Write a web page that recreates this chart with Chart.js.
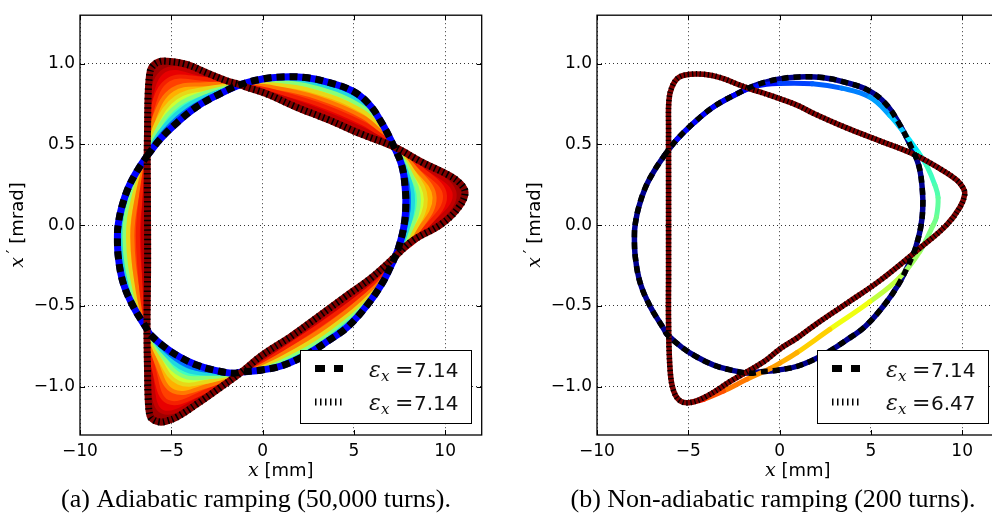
<!DOCTYPE html>
<html>
<head>
<meta charset="utf-8">
<script src="https://cdn.jsdelivr.net/npm/chart.js@4.4.1/dist/chart.umd.min.js"></script>
<style>
  html, body { margin: 0; padding: 0; background: #fff; overflow: hidden; width: 992px; height: 524px; }
  .panel { position: absolute; top: 0; width: 496px; height: 524px; }
  #panelA { left: 0; }
  #panelB { left: 517px; }
</style>
</head>
<body>
<div class="panel" id="panelA"><canvas id="chartA"></canvas></div>
<div class="panel" id="panelB"><canvas id="chartB"></canvas></div>
<script>
// axes
const xTicks = [-10, -5, 0, 5, 10];
const yTicks = [-1.0, -0.5, 0.0, 0.5, 1.0];
const xRange = [-10, 12];
const yRange = [-1.3, 1.3];

// points where the initial ellipse and the adiabatic final contour cross
const crossingsA = [[-6.32, 0.43], [-1.22, 0.87], [7.2, 0.485], [7.26, -0.195], [-1.15, -0.91], [-6.33, -0.645]];

// initial ellipse (same in both panels), x [mm], x' [mrad]
const ellipse = [
  [-6.32, 0.43], [-5.62, 0.531], [-4.71, 0.632], [-3.61, 0.733], [-2.34, 0.813], [-1.22, 0.87],
  [0.0, 0.905], [1.06, 0.918], [2.33, 0.914], [3.61, 0.884], [4.89, 0.833], [5.8, 0.753],
  [6.53, 0.632], [7.2, 0.485], [7.62, 0.37], [7.81, 0.23], [7.84, 0.1], [7.72, -0.02],
  [7.44, -0.143], [7.26, -0.195], [6.99, -0.263], [6.53, -0.364], [5.8, -0.485], [4.7, -0.626],
  [3.61, -0.716], [2.33, -0.807], [1.06, -0.871], [-0.04, -0.897], [-1.15, -0.91], [-1.61, -0.918],
  [-2.7, -0.897], [-3.61, -0.867], [-4.53, -0.817], [-5.35, -0.757], [-6.17, -0.676], [-6.33, -0.645],
  [-7.08, -0.505], [-7.63, -0.36], [-7.9, -0.2], [-7.95, -0.06], [-7.9, 0.01], [-7.72, 0.109],
  [-7.36, 0.23], [-6.9, 0.33], [-6.32, 0.43]
];

// final contour, adiabatic (a)
const triangleA = [
  [-6.32, 0.43], [-6.3, 0.6], [-6.27, 0.8], [-6.2, 0.92], [-6.08, 0.975], [-5.7, 1.01],
  [-5.26, 1.015], [-4.16, 0.995], [-3.07, 0.944], [-1.97, 0.894], [-1.22, 0.87], [-0.88, 0.854],
  [0.22, 0.813], [1.79, 0.733], [3.61, 0.652], [5.44, 0.562], [7.2, 0.485], [8.72, 0.39],
  [10.18, 0.31], [10.8, 0.26], [11.09, 0.2], [10.73, 0.109], [9.81, 0.008], [8.17, -0.1],
  [7.26, -0.195], [5.98, -0.324], [4.52, -0.444], [3.07, -0.565], [1.6, -0.686], [-0.04, -0.807],
  [-1.15, -0.91], [-2.34, -1.008], [-3.61, -1.109], [-4.71, -1.19], [-5.3, -1.215], [-5.62, -1.22],
  [-6.0, -1.205], [-6.17, -1.18], [-6.26, -1.089], [-6.3, -0.907], [-6.33, -0.645], [-6.3, -0.3],
  [-6.3, 0.0], [-6.32, 0.43]
];

// intermediate contours during the adiabatic ramp (early -> late)
const ramp1 = [[-6.32,0.43],[-5.59,0.556],[-4.38,0.69],[-2.94,0.791],[-1.22,0.87],[0.6,0.908],[3.0,0.887],[5.5,0.767],[6.55,0.618],[7.2,0.485],[7.73,0.352],[8.02,0.144],[7.68,-0.077],[7.26,-0.195],[6.0,-0.444],[3.6,-0.704],[1.0,-0.86],[-1.15,-0.91],[-2.65,-0.907],[-4.11,-0.872],[-5.4,-0.769],[-6.33,-0.645],[-7.27,-0.438],[-7.85,-0.079],[-7.38,0.197],[-6.32,0.43]];
const ramp2 = [[-6.32,0.43],[-5.64,0.574],[-4.46,0.714],[-2.98,0.804],[-1.22,0.87],[0.6,0.899],[3.0,0.871],[5.5,0.751],[6.55,0.61],[7.2,0.485],[7.81,0.354],[8.24,0.148],[7.79,-0.074],[7.26,-0.195],[6.0,-0.435],[3.6,-0.691],[1.0,-0.85],[-1.15,-0.91],[-2.7,-0.921],[-4.23,-0.897],[-5.47,-0.782],[-6.33,-0.645],[-7.2,-0.435],[-7.74,-0.077],[-7.3,0.194],[-6.32,0.43]];
const ramp3 = [[-6.32,0.43],[-5.72,0.6],[-4.59,0.748],[-3.04,0.823],[-1.22,0.87],[0.6,0.886],[3.0,0.849],[5.5,0.729],[6.55,0.599],[7.2,0.485],[7.94,0.357],[8.56,0.154],[7.95,-0.069],[7.26,-0.195],[6.0,-0.423],[3.6,-0.671],[1.0,-0.836],[-1.15,-0.91],[-2.78,-0.941],[-4.4,-0.933],[-5.56,-0.801],[-6.33,-0.645],[-7.09,-0.431],[-7.57,-0.075],[-7.19,0.189],[-6.32,0.43]];
const ramp4 = [[-6.32,0.43],[-5.81,0.631],[-4.74,0.789],[-3.11,0.845],[-1.22,0.87],[0.6,0.871],[3.0,0.823],[5.5,0.703],[6.55,0.586],[7.2,0.485],[8.09,0.36],[8.94,0.161],[8.15,-0.063],[7.26,-0.195],[6.0,-0.408],[3.6,-0.647],[1.0,-0.82],[-1.15,-0.91],[-2.88,-0.965],[-4.61,-0.976],[-5.67,-0.825],[-6.33,-0.645],[-6.97,-0.426],[-7.37,-0.073],[-7.05,0.183],[-6.32,0.43]];
const ramp5 = [[-6.32,0.43],[-5.92,0.67],[-4.93,0.84],[-3.2,0.873],[-1.22,0.87],[0.6,0.853],[3.0,0.79],[5.5,0.67],[6.55,0.569],[7.2,0.485],[8.28,0.365],[9.42,0.17],[8.39,-0.055],[7.26,-0.195],[6.0,-0.389],[3.6,-0.618],[1.0,-0.799],[-1.15,-0.91],[-3.0,-0.995],[-4.88,-1.03],[-5.81,-0.854],[-6.33,-0.645],[-6.82,-0.42],[-7.13,-0.07],[-6.88,0.175],[-6.32,0.43]];
const ramp6 = [[-6.32,0.43],[-6.05,0.717],[-5.15,0.901],[-3.31,0.906],[-1.22,0.87],[0.6,0.83],[3.0,0.75],[5.5,0.63],[6.55,0.549],[7.2,0.485],[8.5,0.37],[9.99,0.181],[8.68,-0.046],[7.26,-0.195],[6.0,-0.366],[3.6,-0.583],[1.0,-0.774],[-1.15,-0.91],[-3.14,-1.031],[-5.19,-1.095],[-5.97,-0.888],[-6.33,-0.645],[-6.63,-0.413],[-6.83,-0.066],[-6.67,0.166],[-6.32,0.43]];
const ramp7 = [[-6.32,0.43],[-6.17,0.761],[-5.36,0.959],[-3.41,0.937],[-1.22,0.87],[0.6,0.809],[3.0,0.713],[5.5,0.593],[6.55,0.53],[7.2,0.485],[8.71,0.376],[10.52,0.191],[8.96,-0.038],[7.26,-0.195],[6.0,-0.344],[3.6,-0.549],[1.0,-0.751],[-1.15,-0.91],[-3.28,-1.065],[-5.49,-1.156],[-6.12,-0.921],[-6.33,-0.645],[-6.45,-0.406],[-6.55,-0.063],[-6.47,0.158],[-6.32,0.43]];

// colour of the band between two successive contours (ellipse side first)
const bandColors = ["#0028ff", "#00b0ff", "#40ffbf", "#d0ff30", "#ffb000", "#ff4000", "#e80000", "#a00000"];
// colour along each intermediate contour (softens the steps between bands)
const rampEdgeColors = ["#006cff", "#20d8df", "#88ff78", "#e8d818", "#ff7800", "#f42000", "#c40000"];
// in which lobes the final contour lies outside the ellipse (A..F, clockwise from upper left)
const triangleOuter = [true, false, true, false, true, false];

// final contour, non-adiabatic (b)
const triangleB = [
  [-6.08, 0.0], [-6.08, 0.3], [-6.08, 0.6], [-6.06, 0.773], [-5.9, 0.854], [-5.53, 0.914],
  [-4.89, 0.934], [-4.16, 0.934], [-3.25, 0.914], [-2.34, 0.874], [-1.61, 0.844], [-0.51, 0.803],
  [0.95, 0.743], [1.84, 0.693], [3.67, 0.602], [5.49, 0.522], [7.31, 0.441], [8.77, 0.35],
  [9.69, 0.28], [10.05, 0.23], [10.14, 0.19], [9.87, 0.109], [9.14, 0.0], [7.68, -0.143],
  [5.49, -0.344], [3.67, -0.485], [1.84, -0.626], [0.95, -0.7], [0.02, -0.767], [-0.88, -0.847],
  [-2.7, -0.968], [-3.98, -1.059], [-4.89, -1.099], [-5.44, -1.089], [-5.8, -1.028], [-5.99, -0.908],
  [-6.08, -0.606], [-6.08, -0.3], [-6.08, 0.0]
];

// particle path during the 200-turn ramp
const nonAdiabatic = [
  [-5.62, 0.531], [-4.71, 0.632], [-3.61, 0.733], [-2.34, 0.813], [-1.2, 0.862], [0.0, 0.877],
  [1.8, 0.875], [3.4, 0.848], [4.94, 0.793], [6.03, 0.68], [6.95, 0.552], [7.6, 0.45],
  [8.05, 0.37], [8.5, 0.25], [8.68, 0.17], [8.59, 0.05], [8.41, 0.0], [7.68, -0.163],
  [6.58, -0.324], [4.94, -0.475], [2.75, -0.646], [0.95, -0.79], [0.02, -0.855], [-0.51, -0.888],
  [-1.79, -0.955], [-3.07, -1.028], [-4.16, -1.079], [-4.89, -1.099]
];
const nonAdiabaticColors = [
  "#0000ff", "#0000ff", "#0000ff", "#0000ff", "#0010ff", "#0040ff",
  "#0060ff", "#0080ff", "#00a0ff", "#00c8ff", "#00e8ff", "#20ffdf",
  "#40ffbf", "#50ffaf", "#60ff9f", "#70ff8f", "#80ff80", "#a0ff60",
  "#c0ff40", "#f0ff10", "#ffd000", "#ffb000", "#ffa000", "#ff9000",
  "#ff7800", "#ff5000", "#ff2000", "#e00000"
];

// legend values and captions
const emittanceA = ["7.14", "7.14"];
const emittanceB = ["7.14", "6.47"];
const captionA = "(a) Adiabatic ramping (50,000 turns).";
const captionB = "(b) Non-adiabatic ramping (200 turns).";

const fmt = (v, d) => (v < 0 ? "\u2212" : "") + Math.abs(v).toFixed(d);

function curve(data, color, width, dash, cap) {
  return {
    data: data,
    showLine: true,
    pointRadius: 0,
    pointHoverRadius: 0,
    borderColor: color,
    borderWidth: width,
    borderDash: dash || [],
    borderCapStyle: cap || "round",
    borderJoinStyle: "round",
    tension: 0.4,
    fill: false
  };
}

function area(data, color, edge) {
  const d = curve(data, edge || color, edge ? 4 : 0);
  d.fill = "shape";
  d.backgroundColor = color;
  return d;
}

// cut a closed contour into its six lobes at the crossing points
function splitLobes(points, crossings) {
  const idx = crossings.map(c => points.findIndex(p => p[0] === c[0] && p[1] === c[1]));
  return idx.map((s, i) => points.slice(s, (i < idx.length - 1 ? idx[i + 1] : points.length - 1) + 1));
}

function stack(list) {
  // first in list is drawn first (bottom)
  list.forEach((d, i) => { d.order = list.length - i; });
  return list;
}

function drawParts(ctx, parts, x, y) {
  let w = 0;
  parts.forEach(p => { ctx.font = p.font; p.w = ctx.measureText(p.text).width + (p.dx || 0); w += p.w; });
  let cx = x - w / 2;
  parts.forEach(p => { ctx.font = p.font; ctx.fillText(p.text, cx + (p.dx || 0), y + (p.dy || 0)); cx += p.w; });
}

const panelDecor = {
  id: "panelDecor",
  afterDraw(chart, args, opts) {
    const ctx = chart.ctx, a = chart.chartArea;
    const sx = chart.scales.x, sy = chart.scales.y;
    ctx.save();

    // inward tick marks
    ctx.strokeStyle = "#000";
    ctx.lineWidth = 1;
    ctx.beginPath();
    xTicks.forEach(v => {
      const px = Math.round(sx.getPixelForValue(v)) + 0.5;
      ctx.moveTo(px, a.bottom); ctx.lineTo(px, a.bottom - 5);
      ctx.moveTo(px, a.top); ctx.lineTo(px, a.top + 5);
    });
    yTicks.forEach(v => {
      const py = Math.round(sy.getPixelForValue(v)) + 0.5;
      ctx.moveTo(a.left, py); ctx.lineTo(a.left + 5, py);
      ctx.moveTo(a.right, py); ctx.lineTo(a.right - 5, py);
    });
    ctx.stroke();

    // frame
    ctx.lineWidth = 1.3;
    ctx.strokeRect(a.left, a.top, a.right - a.left, a.bottom - a.top);

    // axis titles
    ctx.fillStyle = "#000";
    ctx.textBaseline = "alphabetic";
    drawParts(ctx, [
      { text: "x", font: "italic 19px 'DejaVu Serif'" },
      { text: " [mm]", font: "18px 'DejaVu Sans'" }
    ], (a.left + a.right) / 2, 476);

    ctx.save();
    ctx.translate(23, (a.top + a.bottom) / 2);
    ctx.rotate(-Math.PI / 2);
    drawParts(ctx, [
      { text: "x", font: "italic 19px 'DejaVu Serif'" },
      { text: "\u2032", font: "16px 'DejaVu Sans'", dx: 4, dy: -5 },
      { text: " [mrad]", font: "18px 'DejaVu Sans'" }
    ], 0, 0);
    ctx.restore();

    // legend
    const bx = 300.5, by = 350.5, bw = 171, bh = 73;
    ctx.fillStyle = "#fff";
    ctx.fillRect(bx, by, bw, bh);
    ctx.strokeStyle = "#000";
    ctx.lineWidth = 1;
    ctx.strokeRect(bx, by, bw, bh);
    const rows = [368.5, 402];

    ctx.lineWidth = 7;
    ctx.lineCap = "butt";
    ctx.setLineDash([10, 9]);
    ctx.beginPath(); ctx.moveTo(315, rows[0]); ctx.lineTo(343, rows[0]); ctx.stroke();
    ctx.setLineDash([1.5, 3.5]);
    ctx.beginPath(); ctx.moveTo(315, rows[1]); ctx.lineTo(343, rows[1]); ctx.stroke();
    ctx.setLineDash([]);

    ctx.fillStyle = "#111";
    opts.values.forEach((val, i) => {
      const y = rows[i] + 8;
      ctx.font = "italic 22px 'DejaVu Serif'";
      ctx.fillText("\u03b5", 369, y);
      ctx.font = "italic 15px 'DejaVu Serif'";
      ctx.fillText("x", 381, y + 4);
      ctx.font = "22px 'DejaVu Serif'";
      ctx.fillText("=", 395, y);
      ctx.font = "20px 'DejaVu Sans'";
      ctx.fillText(val, 414, y);
    });

    // caption
    ctx.fillStyle = "#000";
    ctx.font = "26px 'Liberation Serif'";
    ctx.textAlign = "center";
    ctx.fillText(opts.caption, 256, 506.5);
    ctx.restore();
  }
};

function options(values, caption) {
  return {
    responsive: true,
    maintainAspectRatio: false,
    animation: false,
    events: [],
    layout: { padding: { top: 5, right: 14.3, left: 0, bottom: 0 } },
    plugins: {
      legend: { display: false },
      tooltip: { enabled: false },
      panelDecor: { values: values, caption: caption }
    },
    scales: {
      x: {
        type: "linear",
        min: xRange[0],
        max: xRange[1],
        afterBuildTicks: s => { s.ticks = xTicks.map(v => ({ value: v })); },
        afterFit: s => { s.height = 89; },
        grid: { color: "#000", lineWidth: 0.8, drawTicks: false },
        border: { display: false, dash: [1, 3] },
        ticks: {
          padding: 6,
          color: "#000",
          maxRotation: 0,
          font: { family: "DejaVu Sans", size: 17 },
          callback: v => fmt(v, 0)
        }
      },
      y: {
        type: "linear",
        min: yRange[0],
        max: yRange[1],
        afterBuildTicks: s => { s.ticks = yTicks.map(v => ({ value: v })); },
        afterFit: s => { s.width = 80; },
        grid: { color: "#000", lineWidth: 0.8, drawTicks: false },
        border: { display: false, dash: [1, 3] },
        ticks: {
          padding: 5,
          color: "#000",
          font: { family: "DejaVu Sans", size: 17 },
          callback: v => fmt(v, 1)
        }
      }
    }
  };
}

// (a) adiabatic: coloured bands between successive contours, lobe by lobe
const contoursA = [ellipse, ramp1, ramp2, ramp3, ramp4, ramp5, ramp6, ramp7, triangleA];
const lobesA = contoursA.map(c => splitLobes(c, crossingsA));
const last = contoursA.length - 1;
const datasetsA = [];
triangleOuter.forEach((outer, L) => {
  for (let n = 0; n <= last; n++) {
    const j = outer ? last - n : n;
    let color;
    if (outer) color = j === 0 ? "#ffffff" : bandColors[j - 1];
    else color = j === last ? "#ffffff" : bandColors[j];
    const edge = j > 0 && j < last ? rampEdgeColors[j - 1] : null;
    datasetsA.push(area(lobesA[j][L], color, edge));
  }
});
// hide anti-aliasing seams along the lobe chords
const chords = curve(crossingsA.concat([crossingsA[0]]), "#ffffff", 2.5);
chords.tension = 0;
datasetsA.push(chords);
datasetsA.push(curve(ellipse, "#0000ff", 7));
datasetsA.push(curve(triangleA, "#800000", 7));
datasetsA.push(curve(ellipse, "#000", 7, [8, 5], "butt"));
datasetsA.push(curve(triangleA, "#000", 7, [1.5, 3.2], "butt"));

new Chart(document.getElementById("chartA"), {
  type: "scatter",
  data: { datasets: stack(datasetsA) },
  options: options(emittanceA, captionA),
  plugins: [panelDecor]
});

// (b) non-adiabatic
const pathB = curve(nonAdiabatic, "#0000ff", 5);
pathB.segment = { borderColor: c => nonAdiabaticColors[c.p0DataIndex] };

const datasetsB = stack([
  curve(ellipse, "#000090", 5.5),
  pathB,
  curve(triangleB, "#800000", 5.5),
  curve(ellipse, "#000", 5.5, [7, 5], "butt"),
  curve(triangleB, "#000", 5.5, [1.3, 2.7], "butt")
]);

new Chart(document.getElementById("chartB"), {
  type: "scatter",
  data: { datasets: datasetsB },
  options: options(emittanceB, captionB),
  plugins: [panelDecor]
});
</script>
</body>
</html>
